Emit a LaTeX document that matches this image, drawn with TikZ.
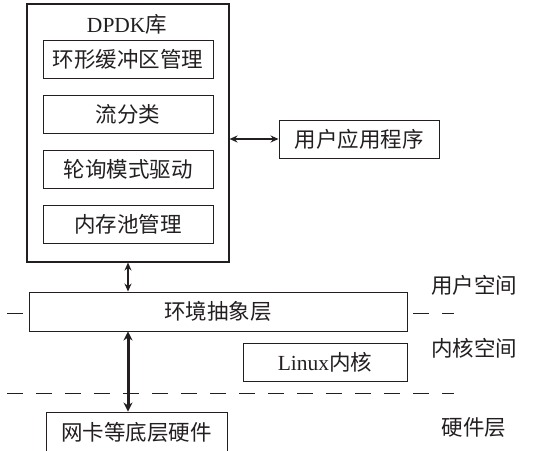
\documentclass[tikz,border=0pt]{standalone}
\usepackage{fontspec}
\setmainfont{Liberation Serif}
\newfontfamily\cjk{Noto Sans CJK SC}
\usetikzlibrary{arrows.meta}
\definecolor{Ink}{HTML}{231F20}
\newcommand{\lat}[1]{{\rmfamily #1}}
\begin{document}
\begin{tikzpicture}[x=1pt,y=-1pt,every node/.style={font=\cjk\fontsize{21.5}{25}\selectfont,text=Ink},box/.style={draw=Ink,line width=0.9pt,fill=white,inner sep=0pt},twoway/.style={draw=Ink,line width=1.7pt,{Stealth[length=8pt,width=7pt]}-{Stealth[length=8pt,width=7pt]}},heavy/.style={draw=Ink,line width=3pt,{Stealth[length=9pt,width=9pt]}-{Stealth[length=9pt,width=9pt]}},border/.style={draw=Ink,line width=0.9pt,dash pattern=on 16pt off 13pt}]
\useasboundingbox (0,0) rectangle (540,450);
\fill[white] (0,0) rectangle (540,450);

% layer borders
\coordinate (b1l) at (7,313);\coordinate (b1r) at (454,313);
\coordinate (b2l) at (7,393);\coordinate (b2r) at (454,393);
\draw[border] (b1l)--(b1r);\draw[border] (b2l)--(b2r);

% DPDK library
\node[box,line width=1.1pt,minimum width=202pt,minimum height=258pt] (dpdk) at (128,133){};
\node (dpdklbl) at (127,24){\lat{DPDK}库};
\node[box,minimum width=170pt,minimum height=38pt] (ring) at (128,59){环形缓冲区管理};
\node[box,minimum width=170pt,minimum height=38pt] (flow) at (128,114){流分类};
\node[box,minimum width=170pt,minimum height=38pt] (pmd) at (128,169){轮询模式驱动};
\node[box,minimum width=170pt,minimum height=38pt] (mempool) at (128,224.5){内存池管理};

\node[box,minimum width=160pt,minimum height=38pt] (app) at (359,139){用户应用程序};
\node[box,minimum width=378pt,minimum height=39pt] (eal) at (218,311.5){环境抽象层};
\node[box,minimum width=164pt,minimum height=38pt] (kernel) at (325,362){\lat{Linux}内核};
\node[box,minimum width=181pt,minimum height=40pt] (nic) at (136.5,432){网卡等底层硬件};

% space labels
\node (userspace) at (474,285){用户空间};\node (kernspace) at (474,348){内核空间};\node (hwlayer) at (474,427){硬件层};

\draw[twoway] (app.west -| dpdk.east)--(app.west);
\draw[twoway] (dpdk.south)--(dpdk.south |- eal.north);
\draw[heavy] (dpdk.south |- eal.south)--(dpdk.south |- nic.north);
\end{tikzpicture}
\end{document}
